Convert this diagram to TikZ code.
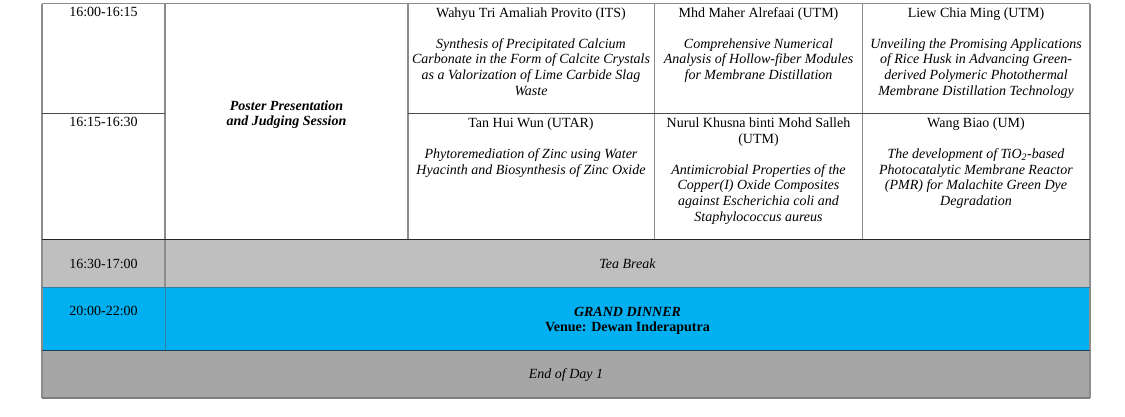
\documentclass[tikz,border=0pt]{standalone}
\usepackage{fontspec}
\setmainfont{Liberation Serif}
\definecolor{gridgray}{HTML}{8C8C8C}
\definecolor{splitgray}{HTML}{4A4A4A}
\definecolor{teagray}{HTML}{BFBFBF}
\definecolor{endgray}{HTML}{A6A6A6}
\definecolor{dinnerblue}{HTML}{00B0F0}
\definecolor{bluetop}{HTML}{2F7FA8}
\definecolor{bluebot}{HTML}{1D3F55}
\begin{document}
\begin{tikzpicture}[x=1pt,y=-1pt,
  every node/.style={inner sep=0pt, text=black},
  basefont/.style={font=\fontsize{14}{15.6}\selectfont},
  txt/.style={basefont, anchor=base},
  multi/.style={basefont, anchor=north, align=center},
  gridline/.style={draw=gridgray, line width=1.2pt},
  splitline/.style={draw=splitgray, line width=1pt},
  darkline/.style={draw=black!85, line width=1pt}]
\useasboundingbox (0,0) rectangle (1125,416);
% fills
\fill[white] (42,3.5) rectangle (1090,239);
\fill[teagray] (42,239) rectangle (1090,287);
\fill[dinnerblue] (42,287) rectangle (1090,350);
\fill[endgray] (42,350) rectangle (1090,398);
% grid
\draw[gridline] (42,3.5) -- (1090,3.5);
\draw[gridline] (42,3.5) -- (42,398);
\draw[gridline] (1090,3.5) -- (1090,398);
\draw[gridline] (165,3.5) -- (165,287);
\draw[draw=bluetop, line width=1pt] (165,287) -- (165,350);
\draw[gridline] (408,3.5) -- (408,239);
\draw[gridline] (654.5,3.5) -- (654.5,239);
\draw[gridline] (862.5,3.5) -- (862.5,239);
\draw[splitline] (42,113.3) -- (165,113.3);
\draw[splitline] (408,113.3) -- (1090,113.3);
\draw[darkline] (42,239) -- (1090,239);
\draw[draw=bluetop, line width=1pt] (42,287) -- (1090,287);
\draw[draw=bluebot, line width=1pt] (42,350) -- (1090,350);
\draw[draw=gridgray!90!black, line width=1.2pt] (42,398) -- (1090,398);
% time column
\node[txt] (t1) at (103.5,16.7) {16:00-16:15};
\node[txt] (t2) at (103.5,126.7) {16:15-16:30};
\node[txt] (t3) at (103.5,268) {16:30-17:00};
\node[txt] (t4) at (103.5,315.5) {20:00-22:00};
% session
\node[multi, font=\fontsize{14}{15.6}\selectfont\bfseries\itshape] (poster) at (286.5,99.1)
  {\strut Poster Presentation\\and Judging Session};
% posters row 1
\node[multi] (p11) at (531,6.1) {\strut Wahyu Tri Amaliah Provito (ITS)\\[15.4pt]
  \textit{Synthesis of Precipitated Calcium}\\
  \textit{Carbonate in the Form of Calcite Crystals}\\
  \textit{as a Valorization of Lime Carbide Slag}\\
  \textit{Waste}};
\node[multi] (p12) at (758.5,6.1) {\strut Mhd Maher Alrefaai (UTM)\\[15.4pt]
  \textit{Comprehensive Numerical}\\
  \textit{Analysis of Hollow-fiber Modules}\\
  \textit{for Membrane Distillation}};
\node[multi] (p13) at (976,6.1) {\strut Liew Chia Ming (UTM)\\[15.4pt]
  \textit{Unveiling the Promising Applications}\\
  \textit{of Rice Husk in Advancing Green-}\\
  \textit{derived Polymeric Photothermal}\\
  \textit{Membrane Distillation Technology}};
% posters row 2
\node[multi] (p21) at (531,116.6) {\strut Tan Hui Wun (UTAR)\\[15.4pt]
  \textit{Phytoremediation of Zinc using Water}\\
  \textit{Hyacinth and Biosynthesis of Zinc Oxide}};
\node[multi] (p22) at (758.5,116.6) {\strut Nurul Khusna binti Mohd Salleh\\(UTM)\\[15.4pt]
  \textit{Antimicrobial Properties of the}\\
  \textit{Copper(I) Oxide Composites}\\
  \textit{against Escherichia coli and}\\
  \textit{Staphylococcus aureus}};
\node[multi] (p23) at (976,116.6) {\strut Wang Biao (UM)\\[15.4pt]
  \textit{The development of TiO\textsubscript{2}-based}\\
  \textit{Photocatalytic Membrane Reactor}\\
  \textit{(PMR) for Malachite Green Dye}\\
  \textit{Degradation}};
% breaks
\node[txt, font=\fontsize{14}{15.6}\selectfont\itshape] (tea) at (627.5,268) {Tea Break};
\node[multi] (dinner) at (627.5,305.1) {\strut\textbf{\textit{GRAND DINNER}}\\\textbf{Venue: Dewan Inderaputra}};
\node[txt, font=\fontsize{14}{15.6}\selectfont\itshape] (endday) at (566,378.5) {End of Day 1};
\end{tikzpicture}
\end{document}
